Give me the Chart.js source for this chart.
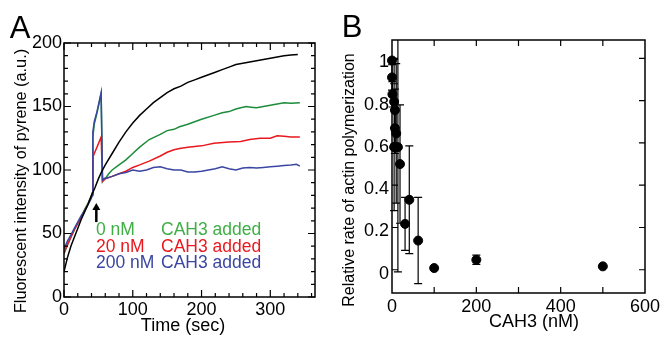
<!DOCTYPE html>
<html>
<head>
<meta charset="utf-8">
<script src="https://cdn.jsdelivr.net/npm/chart.js@4.4.1/dist/chart.umd.min.js"></script>
<style>
  html, body { margin: 0; padding: 0; background: #fff; }
  #wrap { position: relative; width: 664px; height: 337px; }
  #chartA { position: absolute; left: 0; top: 0; }
  #chartB { position: absolute; left: 330px; top: 0; }
</style>
</head>
<body>
<div id="wrap">
  <canvas id="chartA" width="330" height="337"></canvas>
  <canvas id="chartB" width="334" height="337"></canvas>
</div>
<script>
// Panel A: pyrene fluorescence (a.u.) vs time (sec)
const timeBlack = [0, 5, 10, 15, 20, 25, 30, 35, 40, 45, 50, 55, 60, 70, 80, 90, 100, 110, 120, 130, 140, 150, 160, 170, 180, 190, 200, 210, 220, 230, 240, 250, 260, 270, 280, 290, 300, 310, 320, 330, 340]
const fluoBlack = [20, 31, 40, 47, 54, 61, 67, 73, 80, 86, 93, 99, 104, 113, 122, 130, 137, 143, 148, 153, 157, 161, 164, 166, 169, 171, 173, 175, 177, 179, 181, 183, 184, 185, 186, 187, 188, 189, 190, 190.5, 191]

const timeGreen = [0, 5, 10, 15, 20, 25, 30, 35, 40, 41, 42, 44, 48, 54, 55, 56, 58, 61, 65, 70, 80, 90, 100, 110, 124, 140, 150, 160, 168, 180, 190, 200, 218, 230, 240, 250, 257, 265, 272, 280, 290, 300, 310, 320, 330, 343]
const fluoGreen = [34, 41, 47, 53, 58, 63, 69, 74, 80, 82, 126, 136, 145, 160, 160, 91, 93, 94, 97, 100, 104, 108, 113, 118, 124, 128, 131, 132, 134, 136, 138, 140, 143, 145, 146, 148, 149, 150, 149.5, 149, 150, 151, 152, 153, 152.5, 153]

const timeRed = [0, 5, 10, 15, 20, 25, 30, 35, 40, 41, 42, 44, 48, 54, 55, 56, 60, 65, 70, 80, 90, 100, 110, 124, 140, 150, 160, 168, 180, 200, 218, 240, 257, 270, 285, 300, 310, 320, 330, 343]
const fluoRed = [35, 41, 47, 53, 58, 63, 68, 73, 79, 81, 110, 113, 118, 126, 126, 91, 93, 94, 95, 97, 99, 102, 104, 107, 111, 114, 116, 117, 118, 119, 121, 122, 122.5, 124, 125, 125, 127, 126.5, 126, 126]

const timeBlue = [0, 5, 10, 15, 20, 25, 30, 35, 40, 41, 42, 44, 48, 54, 55, 56, 58, 61, 70, 80, 90, 100, 110, 120, 130, 140, 150, 160, 170, 180, 190, 200, 210, 220, 230, 240, 250, 260, 270, 280, 290, 300, 310, 320, 330, 338, 343]
const fluoBlue = [38, 44, 49, 54, 59, 64, 68, 73, 78, 80, 130, 138, 146, 161, 161, 92, 93, 93.5, 95, 97, 98, 100, 99, 100, 102, 102.5, 101, 100, 100, 98.5, 98.5, 99, 100, 101, 102.5, 101, 100, 101.5, 102, 101.5, 102, 102.5, 103, 103.5, 104, 104.5, 103]

const timeTicks = [0, 100, 200, 300]
const timeMinor = [20, 40, 60, 80, 120, 140, 160, 180, 220, 240, 260, 280, 320, 340, 360]
const fluoTicks = [0, 50, 100, 150, 200]
const fluoMinor = [10, 20, 30, 40, 60, 70, 80, 90, 110, 120, 130, 140, 160, 170, 180, 190]
const legendConc = ['0 nM', '20 nM', '200 nM']

// Panel B: relative rate of actin polymerization vs CAH3 (nM)
const conc = [0, 0, 1, 5, 7, 7, 10, 5, 14, 19, 31, 41, 62, 100, 200, 500]
const rate = [0.99, 0.91, 0.83, 0.795, 0.755, 0.67, 0.645, 0.58, 0.58, 0.5, 0.217, 0.331, 0.138, 0.008, 0.047, 0.016]
const rateErr = [0, 0.06, 0.06, 0.2, 0.1, 0.12, 0.33, 0.3, 0.59, 0.28, 0.125, 0.255, 0.204, 0, 0.022, 0]
const concTicks = [0, 200, 400, 600]
const concMinor = [100, 200, 300, 400, 500]
const rateTicks = [0, 0.2, 0.4, 0.6, 0.8, 1]

const GREEN = '#1d8c3c'
const GREEN_TXT = '#3fae45'
const RED = '#e8191f'
const BLUE = '#3b46a2'

Chart.defaults.font.family = "'Liberation Sans', Arial, Helvetica, sans-serif"
Chart.defaults.color = '#000'

const toXY = (xs, ys) => xs.map((v, i) => ({ x: v, y: ys[i] }))

// cadre + graduations vers l'intérieur
const frameTicks = {
  id: 'frameTicks',
  afterDraw(chart, args, o) {
    const { ctx, chartArea: a } = chart
    const x = chart.scales.x
    const y = chart.scales.y
    ctx.save()
    ctx.strokeStyle = '#000'
    ctx.lineWidth = 1.5
    ctx.strokeRect(a.left, a.top, a.right - a.left, a.bottom - a.top)
    ctx.lineWidth = 1.2
    ctx.beginPath()
    const onX = (vals, len) => vals.forEach(v => {
      const px = x.getPixelForValue(v)
      ctx.moveTo(px, a.bottom); ctx.lineTo(px, a.bottom - len)
      ctx.moveTo(px, a.top); ctx.lineTo(px, a.top + len)
    })
    const onY = (vals, len) => vals.forEach(v => {
      const py = y.getPixelForValue(v)
      ctx.moveTo(a.left, py); ctx.lineTo(a.left + len, py)
      ctx.moveTo(a.right, py); ctx.lineTo(a.right - len, py)
    })
    onX(o.xMajor, o.majorLen)
    onX(o.xMinor, o.minorLen)
    onY(o.yMajor, o.majorLen)
    onY(o.yMinor, o.minorLen)
    ctx.stroke()
    ctx.restore()
  }
}

// textes libres (lettres de panneau, titres d'axes, légende)
const texts = {
  id: 'texts',
  afterDraw(chart, args, o) {
    const { ctx } = chart
    ctx.save()
    o.items.forEach(t => {
      ctx.save()
      ctx.translate(t.x, t.y)
      if (t.rotate) ctx.rotate(t.rotate)
      ctx.font = t.font
      ctx.fillStyle = t.color || '#000'
      ctx.textAlign = t.align || 'center'
      ctx.textBaseline = t.baseline || 'middle'
      ctx.fillText(t.text, 0, 0)
      ctx.restore()
    })
    if (o.arrow) {
      const x = chart.scales.x
      const y = chart.scales.y
      const px = x.getPixelForValue(o.arrow.t)
      const y0 = y.getPixelForValue(o.arrow.from)
      const y1 = y.getPixelForValue(o.arrow.to)
      ctx.strokeStyle = '#000'
      ctx.fillStyle = '#000'
      ctx.lineWidth = 2.5
      ctx.beginPath()
      ctx.moveTo(px, y0)
      ctx.lineTo(px, y1 + 5)
      ctx.stroke()
      ctx.beginPath()
      ctx.moveTo(px, y1)
      ctx.lineTo(px - 4, y1 + 7)
      ctx.lineTo(px + 4, y1 + 7)
      ctx.closePath()
      ctx.fill()
    }
    ctx.restore()
  }
}

// barres d'erreur du panneau B
const errorBars = {
  id: 'errorBars',
  beforeDatasetsDraw(chart) {
    const { ctx, chartArea: a } = chart
    const x = chart.scales.x
    const y = chart.scales.y
    ctx.save()
    ctx.beginPath()
    ctx.rect(a.left - 6, a.top, a.right - a.left + 12, a.bottom - a.top)
    ctx.clip()
    ctx.strokeStyle = '#000'
    ctx.lineWidth = 1.2
    ctx.beginPath()
    conc.forEach((c, i) => {
      if (!rateErr[i]) return
      const px = x.getPixelForValue(c)
      const top = y.getPixelForValue(rate[i] + rateErr[i])
      const bot = y.getPixelForValue(rate[i] - rateErr[i])
      ctx.moveTo(px, top); ctx.lineTo(px, bot)
      ctx.moveTo(px - 4, top); ctx.lineTo(px + 4, top)
      ctx.moveTo(px - 4, bot); ctx.lineTo(px + 4, bot)
    })
    ctx.stroke()
    ctx.restore()
  }
}

const tickFont = { size: 18 }

new Chart(document.getElementById('chartA'), {
  type: 'line',
  data: {
    datasets: [
      { data: toXY(timeBlack, fluoBlack), borderColor: '#000' },
      { data: toXY(timeBlue, fluoBlue), borderColor: BLUE },
      { data: toXY(timeRed, fluoRed), borderColor: RED },
      { data: toXY(timeGreen, fluoGreen), borderColor: GREEN }
    ]
  },
  options: {
    responsive: false,
    animation: false,
    layout: { padding: { top: 43, right: 15, left: 0, bottom: 0 } },
    elements: {
      line: { borderWidth: 1.5, tension: 0 },
      point: { radius: 0 }
    },
    plugins: {
      legend: { display: false },
      tooltip: { enabled: false },
      frameTicks: { xMajor: timeTicks, xMinor: timeMinor, yMajor: fluoTicks, yMinor: fluoMinor, majorLen: 7, minorLen: 4 },
      texts: {
        items: [
          { text: 'A', x: 20, y: 38, font: '31px "Liberation Sans", Arial', baseline: 'alphabetic' },
          { text: 'Fluorescent intensity of pyrene (a.u.)', x: 22, y: 181, rotate: -Math.PI / 2, font: '16.3px "Liberation Sans", Arial' },
          { text: 'Time (sec)', x: 183, y: 326, font: '18px "Liberation Sans", Arial' },
          { text: legendConc[0], x: 96, y: 230, align: 'left', color: GREEN_TXT, font: '17.5px "Liberation Sans", Arial' },
          { text: legendConc[1], x: 96, y: 247, align: 'left', color: RED, font: '17.5px "Liberation Sans", Arial' },
          { text: legendConc[2], x: 96, y: 263, align: 'left', color: BLUE, font: '17.5px "Liberation Sans", Arial' },
          { text: 'CAH3 added', x: 161, y: 230, align: 'left', color: GREEN_TXT, font: '17.5px "Liberation Sans", Arial' },
          { text: 'CAH3 added', x: 161, y: 247, align: 'left', color: RED, font: '17.5px "Liberation Sans", Arial' },
          { text: 'CAH3 added', x: 161, y: 263, align: 'left', color: BLUE, font: '17.5px "Liberation Sans", Arial' }
        ],
        arrow: { t: 47, from: 59, to: 74 }
      }
    },
    scales: {
      x: {
        type: 'linear', min: 0, max: 365,
        grid: { display: false, drawTicks: false },
        border: { display: false },
        afterBuildTicks: s => { s.ticks = timeTicks.map(v => ({ value: v })) },
        afterFit: s => { s.height = 40 },
        ticks: { padding: 2, font: tickFont, maxRotation: 0, autoSkip: false }
      },
      y: {
        type: 'linear', min: 0, max: 200,
        grid: { display: false, drawTicks: false },
        border: { display: false },
        afterBuildTicks: s => { s.ticks = fluoTicks.map(v => ({ value: v })) },
        afterFit: s => { s.width = 64 },
        ticks: { padding: 2, font: tickFont, autoSkip: false }
      }
    }
  },
  plugins: [frameTicks, texts]
})

new Chart(document.getElementById('chartB'), {
  type: 'scatter',
  data: {
    datasets: [{
      data: toXY(conc, rate),
      backgroundColor: '#000',
      borderColor: '#000',
      pointRadius: 4.5,
      clip: 8
    }]
  },
  options: {
    responsive: false,
    animation: false,
    layout: { padding: { top: 40, right: 19, left: 0, bottom: 0 } },
    plugins: {
      legend: { display: false },
      tooltip: { enabled: false },
      frameTicks: { xMajor: concMinor, xMinor: [], yMajor: rateTicks, yMinor: [], majorLen: 6, minorLen: 0 },
      texts: {
        items: [
          { text: 'B', x: 22, y: 37, font: '31px "Liberation Sans", Arial', baseline: 'alphabetic' },
          { text: 'Relative rate of actin polymerization', x: 20, y: 180, rotate: -Math.PI / 2, font: '16px "Liberation Sans", Arial' },
          { text: 'CAH3 (nM)', x: 204, y: 322, font: '18px "Liberation Sans", Arial' }
        ]
      }
    },
    scales: {
      x: {
        type: 'linear', min: 0, max: 600,
        grid: { display: false, drawTicks: false },
        border: { display: false },
        afterBuildTicks: s => { s.ticks = concTicks.map(v => ({ value: v })) },
        afterFit: s => { s.height = 44 },
        ticks: { padding: 3, font: tickFont, maxRotation: 0, autoSkip: false }
      },
      y: {
        type: 'linear', min: -0.11, max: 1.087,
        grid: { display: false, drawTicks: false },
        border: { display: false },
        afterBuildTicks: s => { s.ticks = rateTicks.map(v => ({ value: v })) },
        afterFit: s => { s.width = 62 },
        ticks: { padding: 3, font: tickFont, autoSkip: false, labelOffset: 4, callback: v => String(v) }
      }
    }
  },
  plugins: [errorBars, frameTicks, texts]
})
</script>
</body>
</html>
